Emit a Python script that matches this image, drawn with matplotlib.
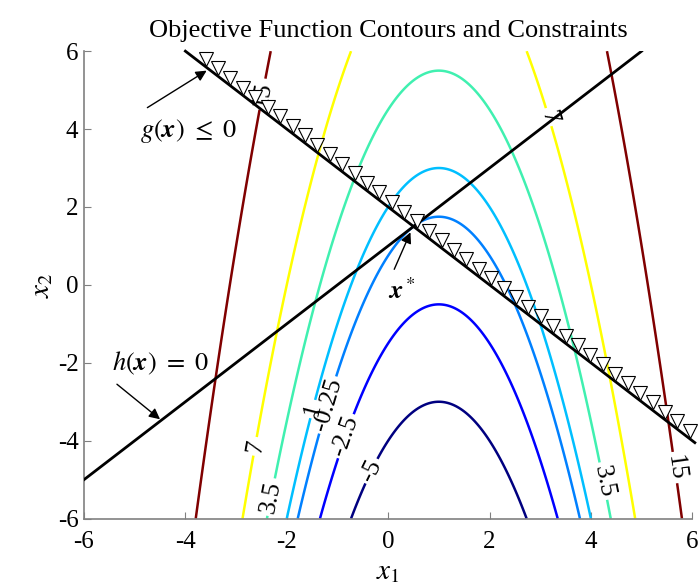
import matplotlib
matplotlib.use('Agg')
import matplotlib.pyplot as plt
import numpy as np

plt.rcParams['font.family'] = ['Liberation Serif', 'DejaVu Serif']
plt.rcParams['mathtext.fontset'] = 'stix'
plt.rcParams['axes.unicode_minus'] = False

# objective f(x) = (x1 - 1)^2 + x2 - 2, contour levels shown
levels = [-5, -2.5, -0.25, 1, 3.5, 7, 15]
level_colors = ['#000080', '#0000ff', '#0080ff', '#00bfff', '#40f0b0',
                '#ffff00', '#800000']
# where each contour label sits (x1, x2)
label_pos = [(-0.3, -4.8), (-0.8, -3.9), (-1.15, -3.1), (-1.45, -3.2),
             (-2.6, -4.15), (-2.3, -5.45), (4.2, -5.05), (5.6, -4.7),
             (3.15, 4.3), (-2.5, 4.9)]
# constraints: g(x) = x1 + x2 - 2 <= 0, h(x) = x2 - x1 - 1 = 0
g_coef = (1.0, 1.0, 2.0)
h_coef = (-1.0, 1.0, 1.0)
x_star = (0.5, 1.5)

x1 = np.linspace(-6, 6, 400)
X1, X2 = np.meshgrid(x1, x1)
F = (X1 - 1) ** 2 + X2 - 2

fig = plt.figure(figsize=(7, 5.88), dpi=100)
ax = fig.add_axes([0.12, 0.118, 0.869, 0.795])

cs = ax.contour(X1, X2, F, levels=levels, colors=level_colors,
                linewidths=1.8)
ax.clabel(cs, fmt='%g', manual=label_pos, inline=True, fontsize=18.5,
          colors='k', inline_spacing=3)

# g(x) <= 0 boundary with triangles on the infeasible side
gx = np.linspace(-4, 6.05, 50)
gy = (g_coef[2] - g_coef[0] * gx) / g_coef[1]
ax.plot(gx, gy, color='k', lw=2, zorder=4, clip_on=False)
tx = np.linspace(-3.6, 5.95, 40)
ty = (g_coef[2] - g_coef[0] * tx) / g_coef[1] + 0.2
ax.plot(tx, ty, 'v', ms=9.5, mfc='white', mec='k', mew=0.8, ls='none',
        zorder=5, clip_on=False)

# h(x) = 0
hx = np.linspace(-6, 5, 50)
hy = (h_coef[2] - h_coef[0] * hx) / h_coef[1]
ax.plot(hx, hy, color='k', lw=2, zorder=4)

arrow = dict(arrowstyle='-|>', color='k', lw=1, mutation_scale=16,
             shrinkA=0, shrinkB=0)
ax.text(-3.95, 3.95, r'$g(\mathbfit{x})\ \leq\ 0$', fontsize=19,
        ha='center', va='center')
ax.annotate('', xy=(-3.58, 5.5), xytext=(-4.75, 4.55), arrowprops=arrow)
ax.text(-4.5, -2.02, r'$h(\mathbfit{x})\ =\ 0$', fontsize=19,
        ha='center', va='center')
ax.annotate('', xy=(-4.5, -3.45), xytext=(-5.35, -2.55), arrowprops=arrow)
ax.text(0.27, -0.15, r'$\mathbfit{x}^*$', fontsize=19,
        ha='center', va='center')
ax.annotate('', xy=(x_star[0] - 0.06, x_star[1] - 0.15), xytext=(0.12, 0.4),
            arrowprops=arrow)

ax.set_xlim(-6, 6)
ax.set_ylim(-6, 6)
ax.set_xticks(np.arange(-6, 7, 2))
ax.set_yticks(np.arange(-6, 7, 2))
ax.tick_params(direction='in', length=5, width=0.8, color='#808080',
               labelsize=18)
ax.tick_params(axis='x', pad=9)
ax.tick_params(axis='y', pad=4)
for side in ('top', 'right'):
    ax.spines[side].set_visible(False)
for side in ('left', 'bottom'):
    ax.spines[side].set_color('#808080')
    ax.spines[side].set_linewidth(1.2)

ax.set_title('Objective Function Contours and Constraints', fontsize=19, pad=10)
ax.set_xlabel('$x_1$', fontsize=21, labelpad=4)
ax.set_ylabel('$x_2$', fontsize=21, labelpad=2)

fig.savefig('out.png', dpi=100, facecolor='white')
